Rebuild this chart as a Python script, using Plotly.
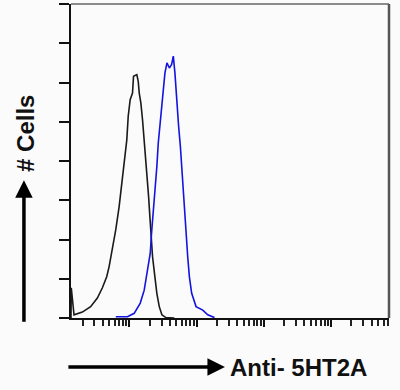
import plotly.graph_objects as go

# ---- data (fluorescence in log10 decades, counts in axis units) ----
control_log10 = [1.130, 1.134, 1.175, 1.299, 1.422, 1.522, 1.597, 1.661, 1.697, 1.746, 1.796,
                 1.846, 1.885, 1.921, 1.960, 1.981, 2.010, 2.045, 2.060, 2.109, 2.130, 2.145,
                 2.169, 2.194, 2.219, 2.243, 2.269, 2.284, 2.303, 2.318, 2.343, 2.378, 2.407,
                 2.443, 2.482, 2.542, 2.667]
control_counts = [0.00, 0.77, 0.08, 0.15, 0.29, 0.51, 0.77, 1.05, 1.31, 1.74, 2.25,
                  2.84, 3.44, 3.95, 4.54, 5.14, 5.56, 5.73, 6.16, 6.20, 6.03, 5.73,
                  5.48, 5.05, 4.54, 4.03, 3.44, 3.10, 2.59, 2.08, 1.56, 1.05, 0.63,
                  0.29, 0.08, 0.01, 0.00]

stained_log10 = [1.796, 1.970, 2.070, 2.160, 2.219, 2.269, 2.309, 2.328, 2.358, 2.384, 2.407,
                 2.428, 2.458, 2.482, 2.507, 2.527, 2.557, 2.593, 2.627, 2.652, 2.676, 2.691,
                 2.716, 2.731, 2.757, 2.776, 2.796, 2.816, 2.840, 2.866, 2.891, 2.925, 2.990,
                 3.090, 3.164, 3.264]
stained_counts = [0.03, 0.03, 0.12, 0.38, 0.71, 1.23, 1.65, 2.16, 2.76, 3.27, 3.86,
                  4.46, 4.97, 5.48, 5.82, 6.24, 6.50, 6.37, 6.46, 6.67, 6.24, 5.82,
                  5.39, 4.88, 4.37, 3.86, 3.27, 2.76, 2.16, 1.56, 1.05, 0.63, 0.29,
                  0.20, 0.08, 0.01]

y_tick_values = [0, 1, 2, 3, 4, 5, 6, 7, 8]
x_decades = [100, 1000, 10000, 100000]
x_minor = [m * d for d in [10, 100, 1000, 10000, 100000] for m in range(2, 10)]

x_title = "Anti- 5HT2A"
y_title = "# Cells"

fig = go.Figure()
fig.add_trace(go.Scatter(x=[10 ** v for v in control_log10], y=control_counts, mode="lines",
                         line=dict(color="#1a1a1a", width=1.6), showlegend=False))
fig.add_trace(go.Scatter(x=[10 ** v for v in stained_log10], y=stained_counts, mode="lines",
                         line=dict(color="#1414e0", width=1.6), showlegend=False))

fig.update_layout(
    width=400, height=390,
    margin=dict(l=71, r=11, t=4, b=72, autoexpand=False),
    paper_bgcolor="#fbfbfb", plot_bgcolor="#fbfbfb",
    xaxis=dict(type="log", range=[1.13, 5.86], showgrid=False, zeroline=False,
               showline=True, linecolor="#111", linewidth=1.5,
               tickmode="array", tickvals=x_decades, ticks="outside", ticklen=7,
               tickwidth=1.6, tickcolor="#111", showticklabels=False,
               minor=dict(tickmode="array", tickvals=x_minor, ticks="outside", ticklen=6,
                          tickwidth=1.5, tickcolor="#222", showgrid=False)),
    yaxis=dict(range=[0, 8], showgrid=False, zeroline=False,
               showline=True, linecolor="#111", linewidth=2,
               tickmode="array", tickvals=y_tick_values, ticks="outside", ticklen=10,
               tickwidth=1.5, tickcolor="#111", showticklabels=False),
    shapes=[
        dict(type="line", xref="paper", yref="paper", x0=0, x1=1, y0=1, y1=1,
             line=dict(color="#666", width=1.5)),
        dict(type="line", xref="paper", yref="paper", x0=1, x1=1, y0=0, y1=1,
             line=dict(color="#555", width=2.5)),
    ],
    annotations=[
        dict(text=y_title, xref="paper", yref="paper", x=-0.145, y=0.589, textangle=-90,
             showarrow=False, xanchor="center", yanchor="middle",
             font=dict(family="Liberation Sans", size=24, color="#111", weight="bold")),
        dict(text=x_title, xref="paper", yref="paper", x=0.715, y=-0.159,
             showarrow=False, xanchor="center", yanchor="middle",
             font=dict(family="Liberation Sans", size=24, color="#111", weight="bold")),
        dict(text="", xref="paper", yref="paper", x=0.484, y=-0.156, ax=-158, ay=0,
             showarrow=True, arrowhead=2, arrowsize=1, arrowwidth=3.5, arrowcolor="#000"),
        dict(text="", xref="paper", yref="paper", x=-0.148, y=0.439, ax=0, ay=143,
             showarrow=True, arrowhead=2, arrowsize=1, arrowwidth=3.5, arrowcolor="#000"),
    ],
)

fig.write_html("out.html", config={"displayModeBar": False},
               post_script="document.body.style.margin='0px';document.body.style.background='#fbfbfb';")
